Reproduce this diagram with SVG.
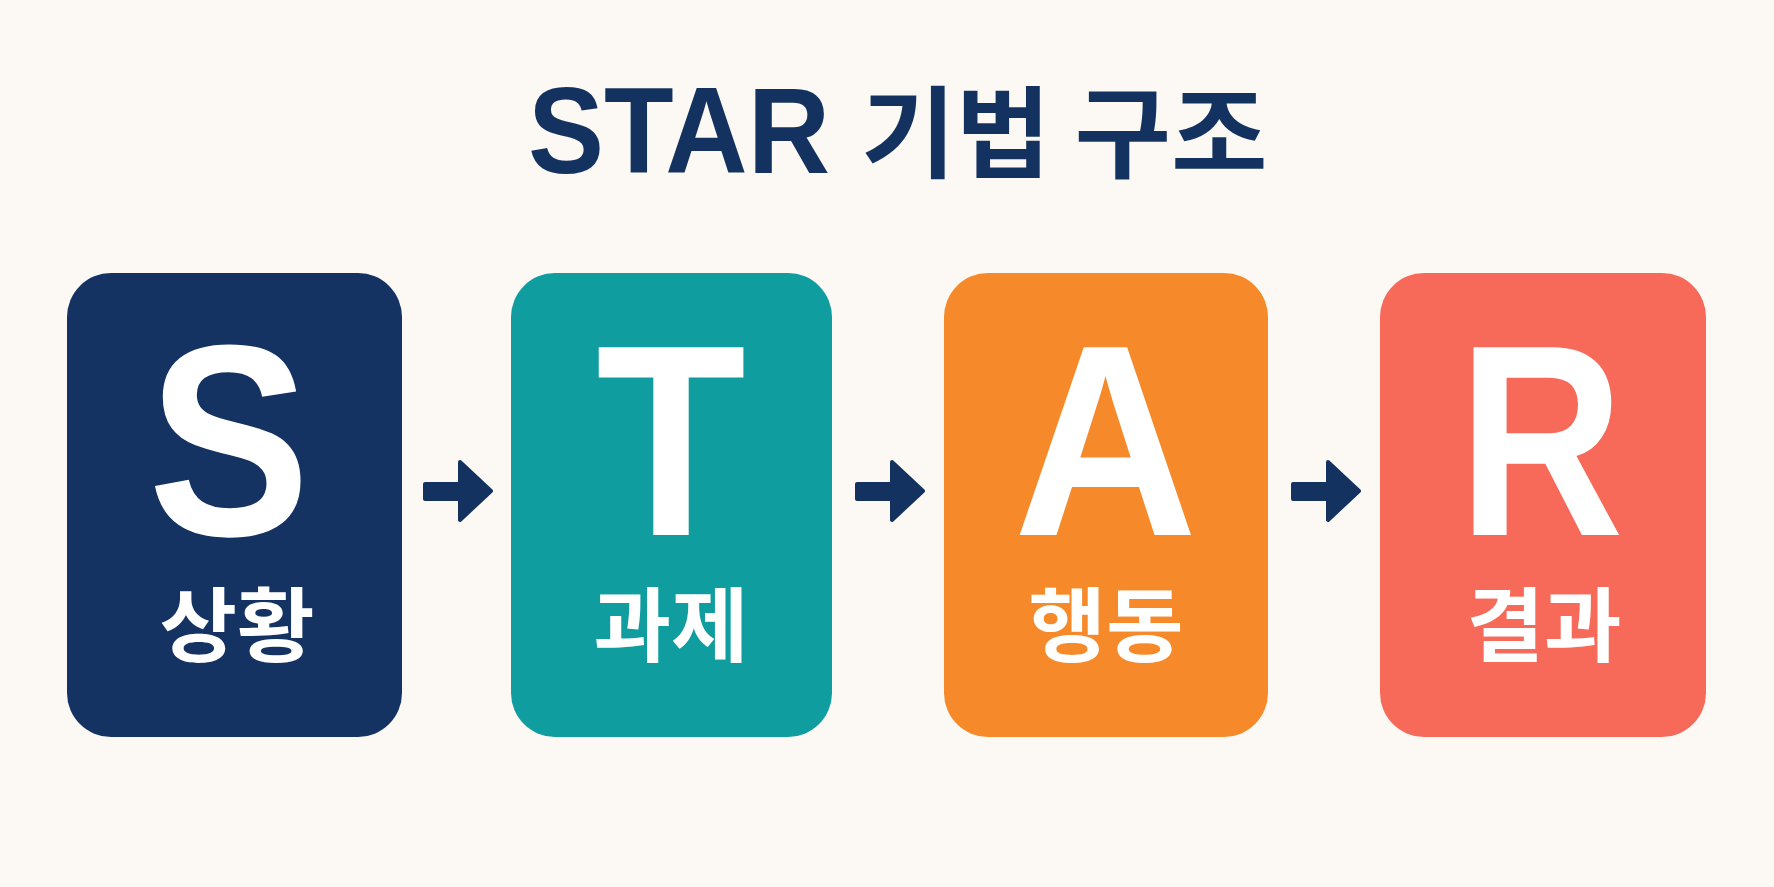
<svg xmlns="http://www.w3.org/2000/svg" width="1774" height="887" viewBox="0 0 1774 887">
<style>
.bg{fill:#fcf9f4}
.box{stroke:none}
.big{font-family:"Liberation Sans",Arial,sans-serif;font-weight:700;font-size:273px;fill:#ffffff;text-anchor:middle}
.lbl{font-family:"Noto Sans CJK KR","Noto Sans",sans-serif;font-weight:700;font-size:81px;fill:#ffffff;text-anchor:middle}
.ttl{fill:#14325f;font-weight:700}
.arrow{fill:#14325f;stroke:#14325f;stroke-width:4;stroke-linejoin:round}
</style>
<rect class="bg" x="0" y="0" width="1774" height="887"/>
<g id="title">
<text class="ttl" transform="translate(528,173) scale(0.935,1)" font-family="'Liberation Sans',Arial,sans-serif" font-size="122">STAR</text>
<text class="ttl" transform="translate(861,170) scale(1.03,1)" font-family="'Noto Sans CJK KR',sans-serif" font-size="100">기법</text>
<text class="ttl" transform="translate(1074.5,170) scale(1.05,1)" font-family="'Noto Sans CJK KR',sans-serif" font-size="100">구조</text>
</g>
<g id="node-s">
<rect class="box" x="67" y="273" width="335" height="464" rx="44" fill="#143362"/>
<text class="big" transform="translate(229,535) scale(0.89,1)">S</text>
<text class="lbl" transform="translate(237,655) scale(1.04,1)">상황</text>
</g>
<g id="node-t">
<rect class="box" x="511" y="273" width="321" height="464" rx="44" fill="#0f9d9f"/>
<text class="big" transform="translate(671,535) scale(0.9,1)">T</text>
<text class="lbl" transform="translate(671,655) scale(1.04,1)">과제</text>
</g>
<g id="node-a">
<rect class="box" x="944" y="273" width="324" height="464" rx="44" fill="#f68a2a"/>
<text class="big" transform="translate(1105.5,535) scale(0.935,1)">A</text>
<text class="lbl" transform="translate(1106,655) scale(1.04,1)">행동</text>
</g>
<g id="node-r">
<rect class="box" x="1380" y="273" width="326" height="464" rx="44" fill="#f76a5a"/>
<text class="big" transform="translate(1541,535) scale(0.84,1)">R</text>
<text class="lbl" transform="translate(1544,655) scale(1.04,1)">결과</text>
</g>
<g id="connectors">
<path class="arrow" d="M425 484 H460 V462 L491 491 L460 520 V499 H425 Z"/>
<path class="arrow" d="M857 484 H892 V462 L923 491 L892 520 V499 H857 Z"/>
<path class="arrow" d="M1293 484 H1328 V462 L1359 491 L1328 520 V499 H1293 Z"/>
</g>
</svg>
